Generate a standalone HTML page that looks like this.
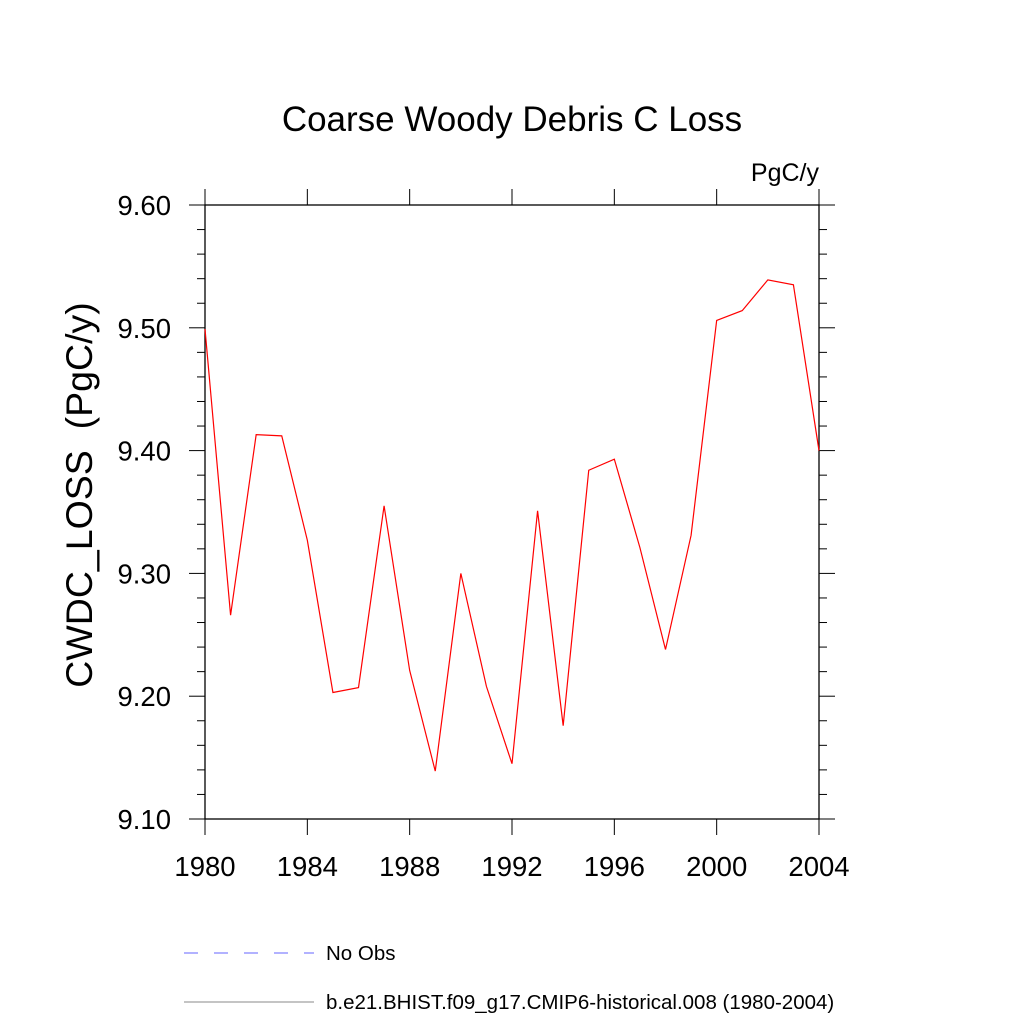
<!DOCTYPE html>
<html><head><meta charset="utf-8"><style>
html,body{margin:0;padding:0;background:#fff;}
svg{display:block;font-family:"Liberation Sans",sans-serif;}
</style></head><body>
<svg id="chart" width="1024" height="1024" viewBox="0 0 1024 1024">
<text x="512" y="131" font-size="35" text-anchor="middle">Coarse Woody Debris C Loss</text>
<text x="819" y="181" font-size="25" text-anchor="end">PgC/y</text>
<text transform="translate(92,495) rotate(-90)" font-size="37.5" text-anchor="middle" xml:space="preserve">CWDC_LOSS  (PgC/y)</text>
<g id="axes"></g>
<g id="series"></g>
<line x1="184" y1="953" x2="314" y2="953" stroke="#6666ff" stroke-width="1" stroke-dasharray="14,16"/>
<text x="326" y="960" font-size="20.5">No Obs</text>
<line x1="184" y1="1002" x2="314" y2="1002" stroke="#888" stroke-width="1"/>
<text x="326" y="1009" font-size="20.5">b.e21.BHIST.f09_g17.CMIP6-historical.008 (1980-2004)</text>
</svg>
<script>
const years=[1980,1981,1982,1983,1984,1985,1986,1987,1988,1989,1990,1991,1992,1993,1994,1995,1996,1997,1998,1999,2000,2001,2002,2003,2004];
const values=[9.499,9.266,9.413,9.412,9.327,9.203,9.207,9.355,9.221,9.139,9.300,9.208,9.145,9.351,9.176,9.384,9.393,9.321,9.238,9.331,9.506,9.514,9.539,9.535,9.400];
const yTicks=[9.10,9.20,9.30,9.40,9.50,9.60];
const xTicks=[1980,1984,1988,1992,1996,2000,2004];
const X0=205,X1=819,Y0=819,Y1=205;
const xs=v=>X0+(v-1980)/(2004-1980)*(X1-X0);
const ys=v=>Y0-(v-9.1)/(0.5)*(Y0-Y1);
const NS="http://www.w3.org/2000/svg";
const ax=document.getElementById('axes');
function mk(p,tag,attrs){const e=document.createElementNS(NS,tag);for(const k in attrs)e.setAttribute(k,attrs[k]);p.appendChild(e);return e;}
const frame=mk(ax,'rect',{x:X0,y:Y1,width:X1-X0,height:Y0-Y1,fill:'none',stroke:'#000','stroke-width':1.3});


for(let i=0;i<=25;i++){const v=9.1+i*0.02;const y=ys(v);const major=i%5===0;const L=major?16:8;
 mk(ax,'line',{x1:X0-L,y1:y,x2:X0,y2:y,stroke:'#000','stroke-width':1});
 mk(ax,'line',{x1:X1,y1:y,x2:X1+L,y2:y,stroke:'#000','stroke-width':1});}
yTicks.forEach(v=>{const t=mk(ax,'text',{x:X0-34,y:ys(v)+10,'font-size':27.5,'text-anchor':'end'});t.textContent=v.toFixed(2);
 
 });
xTicks.forEach(v=>{const x=xs(v);
 mk(ax,'line',{x1:x,y1:Y0,x2:x,y2:Y0+16,stroke:'#000','stroke-width':1});
 mk(ax,'line',{x1:x,y1:Y1-16,x2:x,y2:Y1,stroke:'#000','stroke-width':1});
 const t=mk(ax,'text',{x:x,y:Y0+57,'font-size':27.5,'text-anchor':'middle'});t.textContent=v;
 
 });
const s=document.getElementById('series');
const pl=mk(s,'polyline',{points:years.map((y,i)=>xs(y)+','+ys(values[i])).join(' '),fill:'none',stroke:'#ff0000','stroke-width':1.2});


</script>
</body></html>
